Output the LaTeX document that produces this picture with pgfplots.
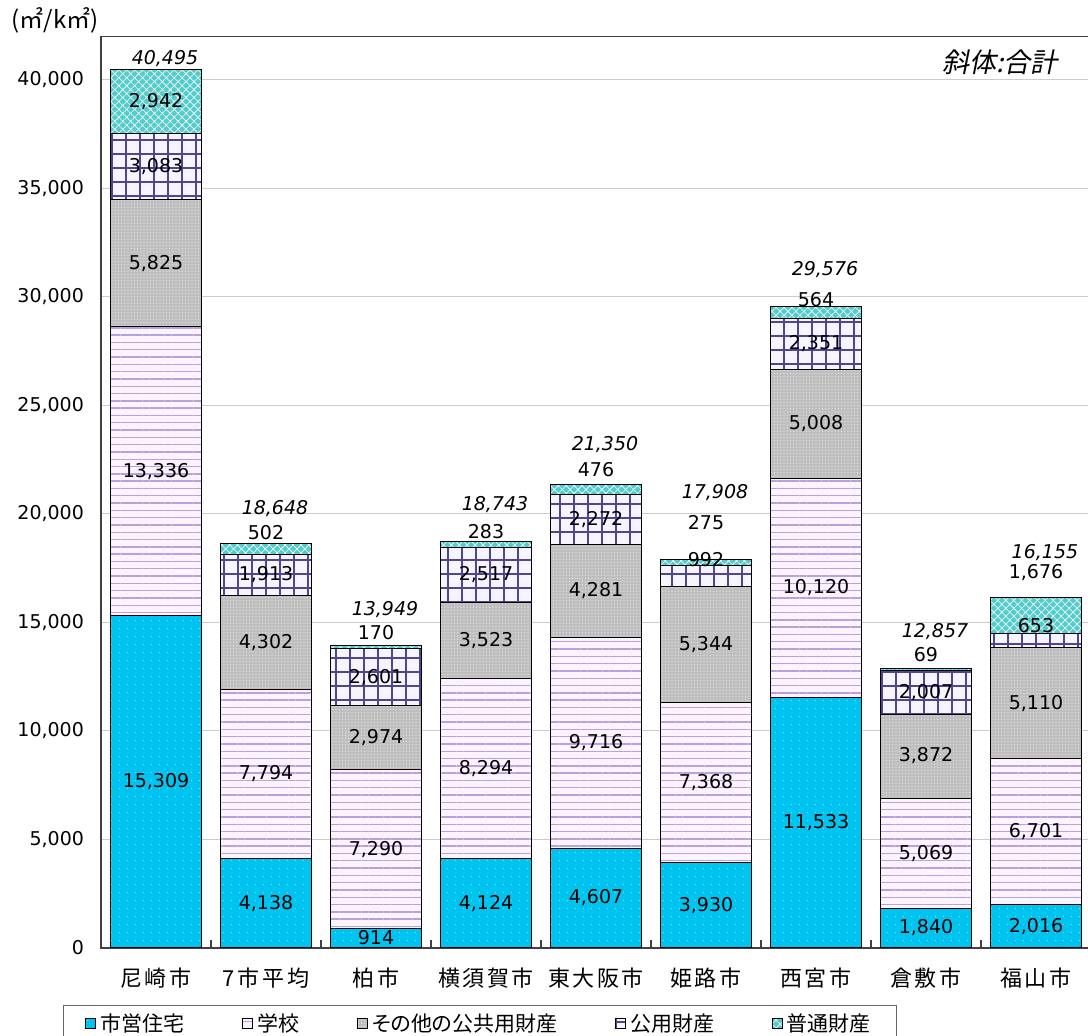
\documentclass[border=0pt]{standalone}
\usepackage{fontspec}
\setmainfont{DejaVu Sans}
\newfontfamily\jp{Noto Sans CJK JP}
\newfontfamily\jpp[RawFeature=+palt]{Noto Sans CJK JP}
\newfontfamily\jpcat[LetterSpace=12]{Noto Sans CJK JP}
\newfontfamily\jpit[FakeSlant=0.2]{Noto Sans CJK JP}
\usepackage{pgfplots}
\pgfplotsset{compat=1.18}
\usepackage{pgfplotstable}
\usetikzlibrary{patterns.meta}

\definecolor{shiei}{HTML}{00C4F0}
\definecolor{shieidot}{HTML}{7FE2FF}
\definecolor{gakkobg}{HTML}{FBF3FF}
\definecolor{gakkoln}{HTML}{B7A3DA}
\definecolor{sonota}{HTML}{BEBEBE}
\definecolor{sonotadot}{HTML}{E4E4E4}
\definecolor{koyobg}{HTML}{F6F4FF}
\definecolor{koyoln}{HTML}{4F4690}
\definecolor{futsu}{HTML}{55CCCC}

\tikzset{
  lbl/.style={font=\fontsize{9.5}{11}\selectfont, inner sep=0pt},
  tot/.style={font=\fontsize{9.5}{11}\selectfont\itshape, inner sep=0pt, xshift=4.5pt},
}
\pgfplotsset{
  frame/.style={at={(50.5pt,44pt)}, anchor=south west,
    scale only axis, width=495pt, height=455.7pt,
    xmin=-0.5, xmax=8.5, ymin=0, ymax=42000},
}

% area per km2 by use, cities 0..8
\pgfplotstableread{
x shiei gakko sonota koyo futsu
0 15309 13336 5825 3083 2942
1 4138  7794  4302 1913 502
2 914   7290  2974 2601 170
3 4124  8294  3523 2517 283
4 4607  9716  4281 2272 476
5 3930  7368  5344 992  275
6 11533 10120 5008 2351 564
7 1840  5069  3872 2007 69
8 2016  6701  5110 653  1676
}\data

\begin{document}
\begin{tikzpicture}
\begin{axis}[
  frame,
  ybar stacked, bar width=45.5pt,
  axis line style={black!75, line width=0.6pt},
  ytick={0,5000,...,40000},
  ymajorgrids, grid style={black!20, line width=0.5pt},
  major tick length=0pt,
  xtick pos=bottom, ytick pos=left,
  xtick={0,...,8},
  xticklabels={尼崎市,7市平均,柏市,横須賀市,東大阪市,姫路市,西宮市,倉敷市,福山市},
  xticklabel style={font=\jpcat\fontsize{11}{13}\selectfont, yshift=-6.5pt},
  yticklabel style={font=\fontsize{9.5}{11}\selectfont, xshift=-5pt,
    /pgf/number format/1000 sep={,}, /pgf/number format/assume math mode=true},
  scaled y ticks=false,
  extra x ticks={0.5,1.5,...,7.5}, extra x tick labels={},
  extra x tick style={major tick length=4pt, tick align=inside,
    tick style={black!75, line width=0.6pt}},
  legend columns=5,
  legend style={at={(-0.0384,-0.0625)}, anchor=north west,
    draw=black!60, line width=0.5pt,
    font=\jpp\fontsize{10.5}{13}\selectfont,
    inner xsep=11pt, inner ysep=2pt,
    nodes={inner xsep=2pt},
    /tikz/every even column/.append style={column sep=27pt}},
  legend image code/.code={\draw[#1,draw=black,line width=0.4pt] (0pt,-2.5pt) rectangle (5pt,2.5pt);},
]
\addplot[draw=black, line width=0.5pt, fill=shiei,
  postaction={pattern={Dots[distance=4pt, radius=0.35pt]}, pattern color=shieidot}]
  table[x=x, y=shiei] {\data};
\addplot[draw=black, line width=0.5pt, fill=gakkobg,
  postaction={pattern={Lines[angle=0, distance=3.65pt, line width=0.7pt]}, pattern color=gakkoln}]
  table[x=x, y=gakko] {\data};
\addplot[draw=black, line width=0.5pt, fill=sonota,
  postaction={pattern={Dots[distance=1.6pt, radius=0.35pt]}, pattern color=sonotadot}]
  table[x=x, y=sonota] {\data};
\addplot[draw=black, line width=0.5pt, fill=koyobg,
  postaction={pattern={Hatch[angle=0, distance=7pt, line width=0.55pt]}, pattern color=koyoln}]
  table[x=x, y=koyo] {\data};
\addplot[draw=black, line width=0.5pt, fill=futsu,
  postaction={pattern={Hatch[angle=45, distance=2.8pt, line width=0.3pt]}, pattern color=white}]
  table[x=x, y=futsu] {\data};
\legend{市営住宅,学校,その他の公共用財産,公用財産,普通財産}
\end{axis}

% value labels, drawn over the bars in a matching frame
\begin{axis}[frame, hide axis, clip=false]
\node[lbl] at (axis cs:0,7654.5) {15,309};
\node[lbl] at (axis cs:0,21977) {13,336};
\node[lbl] at (axis cs:0,31557.5) {5,825};
\node[lbl] at (axis cs:0,36011.5) {3,083};
\node[lbl] at (axis cs:0,39024) {2,942};
\node[tot] at (axis cs:0,40968) {40,495};

\node[lbl] at (axis cs:1,2069) {4,138};
\node[lbl] at (axis cs:1,8035) {7,794};
\node[lbl] at (axis cs:1,14083) {4,302};
\node[lbl] at (axis cs:1,17190.5) {1,913};
\node[lbl] at (axis cs:1,19124) {502};
\node[tot] at (axis cs:1,20230) {18,648};

\node[lbl] at (axis cs:2,457) {914};
\node[lbl] at (axis cs:2,4559) {7,290};
\node[lbl] at (axis cs:2,9691) {2,974};
\node[lbl] at (axis cs:2,12478.5) {2,601};
\node[lbl] at (axis cs:2,14516) {170};
\node[tot] at (axis cs:2,15576) {13,949};

\node[lbl] at (axis cs:3,2062) {4,124};
\node[lbl] at (axis cs:3,8271) {8,294};
\node[lbl] at (axis cs:3,14179.5) {3,523};
\node[lbl] at (axis cs:3,17199.5) {2,517};
\node[lbl] at (axis cs:3,19171) {283};
\node[tot] at (axis cs:3,20415) {18,743};

\node[lbl] at (axis cs:4,2303.5) {4,607};
\node[lbl] at (axis cs:4,9465) {9,716};
\node[lbl] at (axis cs:4,16463.5) {4,281};
\node[lbl] at (axis cs:4,19740) {2,272};
\node[lbl] at (axis cs:4,22028) {476};
\node[tot] at (axis cs:4,23180) {21,350};

\node[lbl] at (axis cs:5,1965) {3,930};
\node[lbl] at (axis cs:5,7614) {7,368};
\node[lbl] at (axis cs:5,13970) {5,344};
\node[lbl] at (axis cs:5,17880) {992};
\node[lbl] at (axis cs:5,19585) {275};
\node[tot] at (axis cs:5,20968) {17,908};

\node[lbl] at (axis cs:6,5766.5) {11,533};
\node[lbl] at (axis cs:6,16593) {10,120};
\node[lbl] at (axis cs:6,24157) {5,008};
\node[lbl] at (axis cs:6,27836.5) {2,351};
\node[lbl] at (axis cs:6,29862) {564};
\node[tot] at (axis cs:6,31244) {29,576};

\node[lbl] at (axis cs:7,920) {1,840};
\node[lbl] at (axis cs:7,4374.5) {5,069};
\node[lbl] at (axis cs:7,8845) {3,872};
\node[lbl] at (axis cs:7,11784.5) {2,007};
\node[lbl] at (axis cs:7,13502) {69};
\node[tot] at (axis cs:7,14562) {12,857};

\node[lbl] at (axis cs:8,1008) {2,016};
\node[lbl] at (axis cs:8,5366.5) {6,701};
\node[lbl] at (axis cs:8,11272) {5,110};
\node[lbl] at (axis cs:8,14839) {653};
\node[lbl] at (axis cs:8,17281) {1,676};
\node[tot] at (axis cs:8,18203) {16,155};
\end{axis}
% unit and note
\node[font=\jp\fontsize{12}{14}\selectfont, inner sep=0pt] at (27.5pt,508pt) {(㎡/k㎡)};
\node[font=\jpit\fontsize{13.5}{15}\selectfont, inner sep=0pt] at (500pt,487pt) {斜体:合計};
\pgfresetboundingbox
\path (0,0) rectangle (544pt,518pt);
\end{tikzpicture}
\end{document}
